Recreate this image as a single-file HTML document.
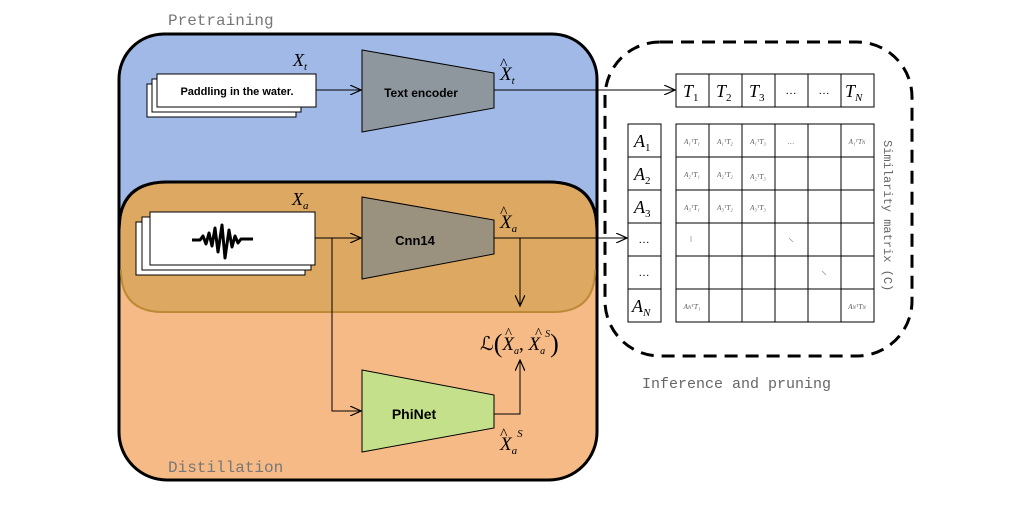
<!DOCTYPE html>
<html><head><style>body{margin:0;background:#fff}svg{display:block}</style></head><body>
<svg width="1024" height="515" viewBox="0 0 1024 515" xmlns="http://www.w3.org/2000/svg" font-family="Liberation Serif, serif">
<defs><marker id="a" markerWidth="12" markerHeight="10" refX="11" refY="5" orient="auto" markerUnits="userSpaceOnUse"><path d="M0,0 L11,5 L0,10" fill="none" stroke="#000" stroke-width="1.2"/></marker></defs>
<text x="168" y="25" font-family="Liberation Mono, monospace" font-size="16" fill="#777">Pretraining</text>
<rect x="119" y="34" width="478" height="300" rx="45" fill="#a0b9e6" stroke="#000" stroke-width="3"/>
<rect x="119" y="182" width="478" height="298" rx="48" fill="#f6ba86" stroke="#000" stroke-width="3"/>
<path d="M121,270 Q121,312 163,312 L553,312 Q595,312 595,270 L595,225 Q595,183 553,183 L163,183 Q121,183 121,225 Z" fill="#dca862"/>
<path d="M121,270 Q121,312 163,312 L553,312 Q595,312 595,270" fill="none" stroke="#bd8a38" stroke-width="2"/>
<path d="M119,230 Q119,182 167,182 L549,182 Q597,182 597,230" fill="none" stroke="#000" stroke-width="3"/>
<text x="168" y="472" font-family="Liberation Mono, monospace" font-size="16" fill="#777">Distillation</text>
<!-- text stack -->
<rect x="147" y="84" width="149" height="33" fill="#fff" stroke="#000"/>
<rect x="152" y="79" width="149" height="33" fill="#fff" stroke="#000"/>
<rect x="157" y="74" width="159" height="33" fill="#fff" stroke="#000"/>
<text x="237" y="95" text-anchor="middle" font-family="Liberation Sans, sans-serif" font-size="11" font-weight="bold">Paddling in the water.</text>
<text x="293" y="66" font-size="18" font-style="italic">X<tspan font-size="11" dy="4">t</tspan></text>
<!-- audio stack -->
<rect x="136" y="222" width="169" height="53" fill="#fff" stroke="#000"/>
<rect x="142" y="217" width="169" height="53" fill="#fff" stroke="#000"/>
<rect x="150" y="212" width="165" height="53" fill="#fff" stroke="#000"/>
<path d="M192,240 L200,240 L203,236 L206,244 L209,233 L212,246 L215,228 L218,252 L222,225 L225,258 L229,230 L232,247 L235,236 L238,243 L241,239 L253,239" fill="none" stroke="#000" stroke-width="3" stroke-linejoin="round"/>
<text x="292" y="205" font-size="18" font-style="italic">X<tspan font-size="11" dy="4">a</tspan></text>
<!-- trapezoids -->
<polygon points="362,50 494,73 494,108 362,132" fill="#8f979e" stroke="#000"/>
<text x="421" y="97" text-anchor="middle" font-family="Liberation Sans, sans-serif" font-size="12" font-weight="bold">Text encoder</text>
<polygon points="362,197 494,220 494,254 362,279" fill="#9b917f" stroke="#000"/>
<text x="415" y="245" text-anchor="middle" font-family="Liberation Sans, sans-serif" font-size="13" font-weight="bold">Cnn14</text>
<polygon points="362,370 494,395 494,428 362,452" fill="#c4e08a" stroke="#000"/>
<text x="414" y="419" text-anchor="middle" font-family="Liberation Sans, sans-serif" font-size="14" font-weight="bold">PhiNet</text>
<!-- arrows -->
<line x1="316" y1="90" x2="361" y2="90" stroke="#000" marker-end="url(#a)"/>
<line x1="315" y1="238" x2="361" y2="238" stroke="#000" marker-end="url(#a)"/>
<polyline points="332,238 332,411 361,411" fill="none" stroke="#000" marker-end="url(#a)"/>
<line x1="494" y1="90" x2="675" y2="90" stroke="#000" marker-end="url(#a)"/>
<line x1="494" y1="238" x2="627" y2="238" stroke="#000" marker-end="url(#a)"/>
<line x1="520" y1="238" x2="520" y2="306" stroke="#000" marker-end="url(#a)"/>
<polyline points="494,414 520,414 520,360" fill="none" stroke="#000" marker-end="url(#a)"/>
<!-- hat labels -->
<text x="500" y="80" font-size="19" font-style="italic">X<tspan font-size="11" dy="4">t</tspan></text><text x="500" y="69" font-size="16">^</text>
<text x="500" y="228" font-size="19" font-style="italic">X<tspan font-size="11" dy="4">a</tspan></text><text x="500" y="217" font-size="16">^</text>
<text x="500" y="450" font-size="19" font-style="italic">X<tspan font-size="11" dy="4">a</tspan><tspan font-size="11" dy="-17">S</tspan></text><text x="500" y="439" font-size="16">^</text>
<text x="480" y="350" font-size="19">ℒ<tspan font-size="26" dy="2">(</tspan><tspan font-style="italic" dy="-2">X</tspan><tspan font-size="10" font-style="italic" dy="4">a</tspan><tspan dy="-4">,</tspan><tspan font-style="italic"> X</tspan><tspan font-size="10" font-style="italic" dy="4">a</tspan><tspan font-size="10" font-style="italic" dy="-17">S</tspan><tspan font-size="26" dy="15">)</tspan></text>
<text x="505" y="338" font-size="15">^</text><text x="535" y="338" font-size="15">^</text>
<!-- dashed box -->
<rect x="605" y="42" width="307" height="314" rx="55" fill="none" stroke="#000" stroke-width="3" stroke-dasharray="13,8"/>
<text x="642" y="388" font-family="Liberation Mono, monospace" font-size="15" fill="#666">Inference and pruning</text>
<text transform="translate(884,140) rotate(90)" font-family="Liberation Mono, monospace" font-size="12" fill="#666">Similarity matrix (C)</text>
<g stroke="#000" fill="#fff">
<rect x="676" y="74" width="33" height="33"/><rect x="709" y="74" width="33" height="33"/><rect x="742" y="74" width="33" height="33"/><rect x="775" y="74" width="33" height="33"/><rect x="808" y="74" width="33" height="33"/><rect x="841" y="74" width="33" height="33"/>
<rect x="628" y="124" width="33" height="33"/><rect x="628" y="157" width="33" height="33"/><rect x="628" y="190" width="33" height="33"/><rect x="628" y="223" width="33" height="33"/><rect x="628" y="256" width="33" height="33"/><rect x="628" y="289" width="33" height="33"/>
<rect x="676" y="124" width="198" height="198"/>
<path d="M709,124V322M742,124V322M775,124V322M808,124V322M841,124V322M676,157H874M676,190H874M676,223H874M676,256H874M676,289H874" fill="none"/>
</g>
<g font-size="18" font-style="italic">
<text x="683" y="97">T<tspan font-size="11" dy="4" font-style="normal">1</tspan></text>
<text x="716" y="97">T<tspan font-size="11" dy="4" font-style="normal">2</tspan></text>
<text x="749" y="97">T<tspan font-size="11" dy="4" font-style="normal">3</tspan></text>
<text x="845" y="97">T<tspan font-size="11" dy="4">N</tspan></text>
<text x="634" y="147">A<tspan font-size="11" dy="4" font-style="normal">1</tspan></text>
<text x="634" y="180">A<tspan font-size="11" dy="4" font-style="normal">2</tspan></text>
<text x="634" y="213">A<tspan font-size="11" dy="4" font-style="normal">3</tspan></text>
<text x="632" y="312">A<tspan font-size="11" dy="4">N</tspan></text>
</g>
<g font-size="11" text-anchor="middle"><text x="791" y="94">…</text><text x="824" y="94">…</text><text x="644" y="243">…</text><text x="644" y="276">…</text></g>
<g font-size="7" fill="#555" text-anchor="middle" font-style="italic">
<text x="692" y="144">A₁ᵀT₁</text><text x="725" y="144">A₁ᵀT₂</text><text x="758" y="144">A₁ᵀT₃</text><text x="791" y="144">…</text><text x="857" y="144">A₁ᵀT<tspan font-size="5">N</tspan></text>
<text x="692" y="177">A₂ᵀT₁</text><text x="725" y="177">A₂ᵀT₂</text><text x="758" y="179">A₂ᵀT₃</text>
<text x="692" y="210">A₃ᵀT₁</text><text x="725" y="210">A₃ᵀT₂</text><text x="758" y="210">A₃ᵀT₃</text>
<text x="692" y="309">A<tspan font-size="5">N</tspan>ᵀT₁</text><text x="857" y="309">A<tspan font-size="5">N</tspan>ᵀT<tspan font-size="5">N</tspan></text>
</g>
<g stroke="#999" stroke-width="0.8"><line x1="691" y1="236" x2="691" y2="242"/><line x1="789" y1="238" x2="793" y2="242"/><line x1="822" y1="271" x2="826" y2="275"/></g>
</svg>
</body></html>
